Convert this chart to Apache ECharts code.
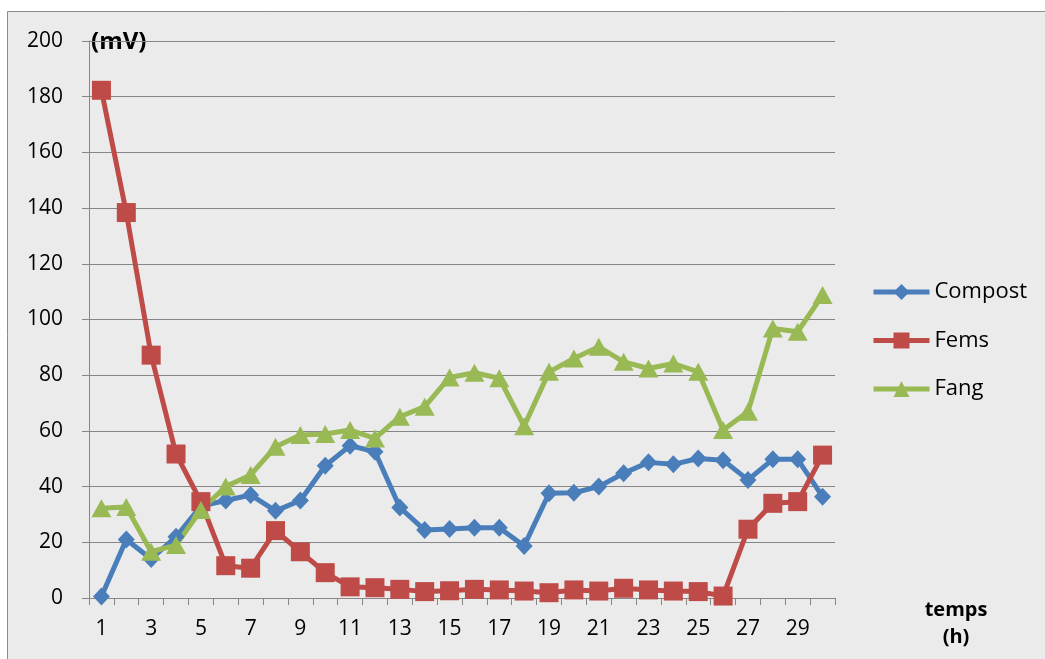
<!DOCTYPE html>
<html>
<head>
<meta charset="utf-8">
<script src="https://cdn.jsdelivr.net/npm/echarts@6/dist/echarts.min.js"></script>
<style>
  html, body { margin: 0; padding: 0; background: #fff; }
  #chart { width: 1045px; height: 659px; }
</style>
</head>
<body>
<div id="chart"></div>
<script>
// temps (h)
var hours = []
for (var h = 1; h <= 30; h++) hours.push(String(h))

var compost = [0.5, 21, 14, 22, 33, 35, 37, 31.3, 35, 47.5, 54.7, 52.5, 32.5, 24.4, 24.8, 25.2, 25.2, 18.7, 37.6, 37.8,
  40, 44.8, 48.7, 48, 50.1, 49.5, 42.4, 49.8, 49.8, 36.4]
var fems = [182.3, 138.4, 87.2, 51.7, 34.6, 11.6, 10.7, 24.2, 16.6, 9.1, 4, 3.7, 3.1, 2.3, 2.6, 3.1, 2.9, 2.5, 1.9, 2.9,
  2.5, 3.5, 2.9, 2.5, 2.3, 0.7, 24.7, 34, 34.6, 51.3]
var fang = [32.2, 32.7, 16.6, 19, 31.6, 40, 44.2, 54.3, 58.5, 58.9, 60.3, 57.3, 65.1, 68.7, 79.2, 80.9, 78.9, 61.7, 81.2, 86,
  90.2, 84.8, 82.4, 84.2, 81.2, 60.3, 66.9, 96.8, 95.6, 108.8]

var font = '"Open Sans", sans-serif'

function mkSeries (name, data, color, symbol, size) {
  return {
    name: name,
    type: 'line',
    data: data,
    symbol: symbol,
    symbolSize: size,
    showAllSymbol: true,
    lineStyle: { color: color, width: 5 },
    itemStyle: { color: color },
    emphasis: { disabled: true },
    animation: false
  }
}

var chart = echarts.init(document.getElementById('chart'))
var option = {
  backgroundColor: '#fff',
  animation: false,
  graphic: [
    {
      type: 'rect',
      z: -10,
      shape: { x: 7.5, y: 11.5, width: 1060, height: 670 },
      style: { fill: '#ebebeb', stroke: '#8c8c8c', lineWidth: 1 }
    },
    {
      type: 'text',
      x: 91,
      y: 42,
      style: { text: '(mV)', font: 'bold 24px ' + font, fill: '#000', verticalAlign: 'middle' }
    },
    {
      type: 'text',
      x: 956,
      y: 610,
      style: { text: 'temps', font: 'bold 20px ' + font, fill: '#000', align: 'center', verticalAlign: 'middle' }
    },
    {
      type: 'text',
      x: 956,
      y: 637,
      style: { text: '(h)', font: 'bold 20px ' + font, fill: '#000', align: 'center', verticalAlign: 'middle' }
    }
  ],
  grid: { left: 89, right: 210, top: 41, bottom: 61 },
  legend: {
    orient: 'vertical',
    left: 866,
    top: 276,
    itemWidth: 56,
    itemHeight: 20,
    itemGap: 26.5,
    lineStyle: { width: 5 },
    textStyle: { fontFamily: font, fontSize: 22, color: '#000' },
    data: ['Compost', 'Fems', 'Fang']
  },
  xAxis: {
    type: 'category',
    data: hours,
    boundaryGap: true,
    axisLine: { lineStyle: { color: '#868686', width: 1 } },
    axisTick: { show: true, interval: 0, length: 7, lineStyle: { color: '#868686' } },
    axisLabel: { interval: 1, margin: 21, fontFamily: font, fontSize: 21, color: '#000' },
    splitLine: { show: false }
  },
  yAxis: {
    type: 'value',
    min: 0,
    max: 200,
    interval: 20,
    axisLine: { show: true, lineStyle: { color: '#868686', width: 1 } },
    axisTick: { show: true, length: 7, lineStyle: { color: '#868686' } },
    axisLabel: { margin: 26, fontFamily: font, fontSize: 21, color: '#000' },
    splitLine: { lineStyle: { color: '#868686', width: 1 } }
  },
  series: [
    mkSeries('Compost', compost, '#4a7ebb', 'diamond', [17, 18]),
    mkSeries('Fems', fems, '#be4b48', 'rect', 19),
    mkSeries('Fang', fang, '#98b954', 'triangle', [20, 18])
  ]
}
chart.setOption(option)
</script>
</body>
</html>
